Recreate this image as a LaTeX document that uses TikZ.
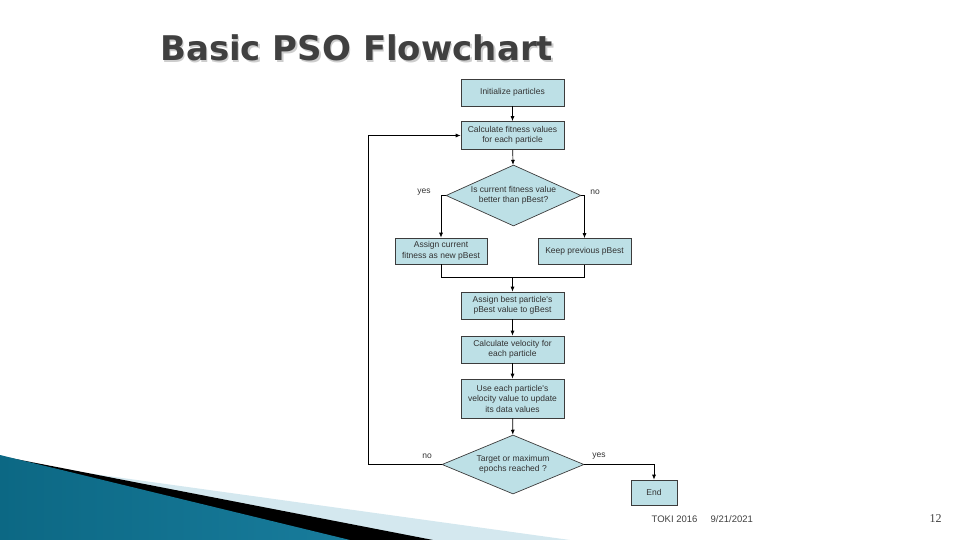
\documentclass[tikz,border=0pt]{standalone}
\usepackage{fontspec}
\usepackage{tikz}
\usetikzlibrary{shapes.geometric,arrows.meta}

\newfontfamily\boxfont{Liberation Sans}
\newfontfamily\titlefont{DejaVu Sans}
\newfontfamily\numfont{Liberation Serif}

\definecolor{boxfill}{RGB}{189,224,230}
\definecolor{boxline}{RGB}{60,60,60}
\definecolor{boxtext}{RGB}{50,50,50}
\definecolor{titlegray}{RGB}{64,64,64}
\definecolor{shadowgray}{RGB}{205,205,205}
\definecolor{bandpale}{RGB}{212,232,239}
\definecolor{tealdark}{RGB}{12,104,132}
\definecolor{teallight}{RGB}{82,180,214}
\definecolor{tealmid}{RGB}{24,124,156}

\begin{document}
\begin{tikzpicture}[x=1pt,y=-1pt,
		flowbox/.style={draw=boxline, line width=0.7pt, fill=boxfill, text=boxtext, align=center,
			minimum width=103pt, minimum height=27pt, inner sep=1pt,
			font=\boxfont\fontsize{8.5}{10.5}\selectfont},
		decision/.style={diamond, draw=boxline, line width=0.7pt, fill=boxfill, text=boxtext, align=center,
			inner sep=0pt, font=\boxfont\fontsize{8.5}{10.5}\selectfont},
		flowarrow/.style={draw=black, line width=0.7pt, -{Latex[length=5pt,width=4pt]}},
		flowline/.style={draw=black, line width=0.7pt},
		lbl/.style={text=boxtext, inner sep=0pt, font=\boxfont\fontsize{8.5}{10.5}\selectfont},
		titletext/.style={anchor=base west, inner sep=0pt, font=\titlefont\bfseries\fontsize{34}{40}\selectfont},
		footer/.style={text=titlegray, inner sep=0pt, anchor=base west, font=\boxfont\fontsize{9.5}{11}\selectfont}]
		\useasboundingbox (0,0) rectangle (960,540);

		% BACKGROUND WEDGES (bottom left)
		\fill[bandpale] (0,461) -- (570,540) -- (0,540) -- cycle;
		\fill[black] (0,456) -- (433,540) -- (0,540) -- cycle;
		\shade[left color=tealdark, middle color=teallight, right color=tealmid] (0,455) -- (350,540) -- (0,540) -- cycle;

		% TITLE
		\node[titletext, text=shadowgray] (titleshadow) at (161.5,62.5) {Basic PSO Flowchart};
		\node[titletext, text=titlegray] (title) at (160,61) {Basic PSO Flowchart};

		% MAIN COLUMN
		\node[flowbox] (init) at (512.5,92.5) {Initialize particles};
		\node[flowbox, minimum height=28pt] (fit) at (512.5,135.5) {Calculate fitness values\\for each particle};
		\node[decision, minimum width=135pt, minimum height=61pt, aspect=2.2] (isbest) at (513.5,195.5) {Is current fitness value\\better than pBest?};

		% PBEST BRANCHES
		\node[flowbox, minimum width=92pt, minimum height=26pt] (assigncur) at (441,251) {Assign current\\fitness as new pBest};
		\node[flowbox, minimum width=93pt, minimum height=26pt] (keep) at (584.5,251.5) {Keep previous pBest};
		\coordinate (join) at (512.5,277);

		\node[flowbox] (gbest) at (512.5,305.5) {Assign best particle's\\pBest value to gBest};
		\node[flowbox] (velocity) at (512.5,349.5) {Calculate velocity for\\each particle};
		\node[flowbox, minimum height=39pt] (update) at (512.5,398.5) {Use each particle's\\velocity value to update\\its data values};
		\node[decision, minimum width=142pt, minimum height=59pt, aspect=2.4] (target) at (513,464.5) {Target or maximum\\epochs reached ?};
		\node[flowbox, minimum width=46pt, minimum height=25pt] (endbox) at (654,492.5) {End};

		% LABELS
		\node[lbl] (yesone) at (424,192) {yes};
		\node[lbl] (noone) at (595,192) {no};
		\node[lbl] (notwo) at (427,456) {no};
		\node[lbl] (yestwo) at (599,456) {yes};

		% CONNECTORS
		\draw[flowarrow] (init) -- (fit);
		\draw[flowarrow] (fit) -- (isbest);
		\draw[flowarrow] (isbest.west) -| (assigncur.north);
		\draw[flowarrow] (isbest.east) -| (keep.north);
		\draw[flowline] (assigncur.south) |- (join);
		\draw[flowline] (keep.south) |- (join);
		\draw[flowarrow] (join) -- (gbest);
		\draw[flowarrow] (gbest) -- (velocity);
		\draw[flowarrow] (velocity) -- (update);
		\draw[flowarrow] (update) -- (target);
		\draw[flowarrow] (target.west) -- ++(-73,0) |- (fit.west); % loop back
		\draw[flowarrow] (target.east) -| (endbox.north);

		% FOOTER
		\node[footer] (event) at (651.5,522.5) {TOKI 2016};
		\node[footer] (date) at (710.5,522.5) {9/21/2021};
		\node[anchor=base west, inner sep=0pt, text=titlegray, font=\numfont\fontsize{12}{14}\selectfont] (pagenum) at (929.5,522) {12};
\end{tikzpicture}
\end{document}
